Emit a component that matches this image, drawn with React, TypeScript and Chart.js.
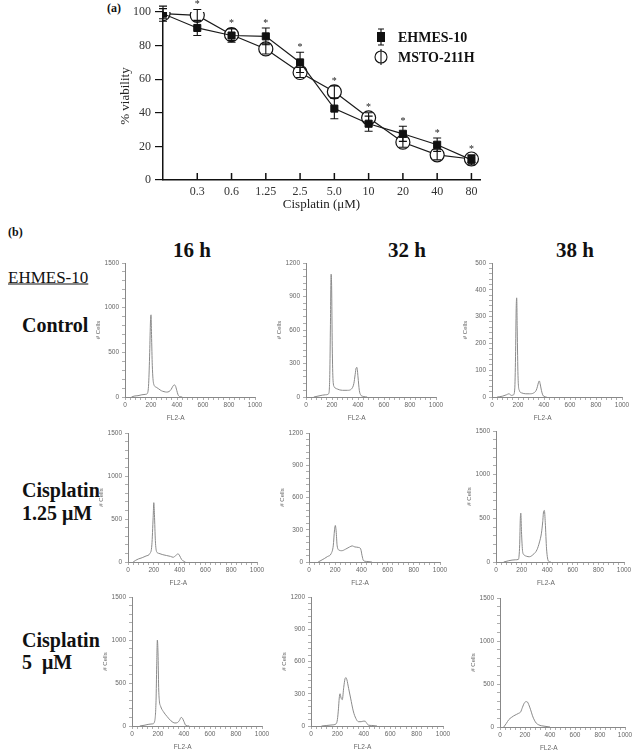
import React, { useEffect, useRef } from 'react';
import { Chart, registerables } from 'chart.js';

Chart.register(...registerables);

const SERIF = '"Liberation Serif", "Times New Roman", Times, serif';
const SANS = '"Liberation Sans", Arial, sans-serif';

// ---------- Panel (a): viability ----------
const concLabels = ['', '0.3', '0.6', '1.25', '2.5', '5.0', '10', '20', '40', '80'];
const ehmes = [99, 90.5, 86, 85.5, 70, 42.5, 33.5, 27.5, 21, 12];
const ehmesErr = [4.5, 4.5, 4, 5, 6, 6, 4.5, 4.5, 4, 3];
const msto = [99, 98, 86.5, 78, 64, 52.5, 37, 22.5, 15, 12.5];
const mstoErr = [3, 3.5, 3.5, 3, 3, 3.5, 3, 3, 3, 2];
const significant = [false, true, true, true, true, true, true, true, true, true];

// ---------- Panel (b): DNA histograms (FL2-A vs # Cells) ----------
// 16 h Control
const c16X = [50, 70, 100, 130, 160, 172, 182, 190, 196, 200, 204, 210, 220, 240, 260, 280, 300, 320, 340, 355, 368, 378, 388, 398, 408, 420, 440];
const c16Y = [0, 10, 15, 25, 30, 40, 150, 500, 850, 920, 700, 350, 150, 110, 90, 70, 60, 55, 62, 85, 120, 135, 125, 75, 25, 5, 0];
// 32 h Control
const c32X = [60, 100, 150, 175, 183, 188, 193, 197, 202, 208, 218, 240, 280, 320, 350, 368, 378, 386, 392, 400, 410, 420, 440, 470];
const c32Y = [0, 10, 20, 30, 200, 650, 1100, 1000, 450, 150, 90, 72, 60, 60, 72, 120, 200, 260, 265, 180, 60, 20, 5, 0];
// 38 h Control
const c38X = [40, 80, 110, 130, 150, 165, 175, 181, 186, 190, 194, 200, 210, 230, 260, 290, 320, 340, 350, 358, 364, 370, 380, 390, 400, 420];
const c38Y = [0, 3, 8, 12, 6, 8, 30, 150, 330, 370, 250, 80, 25, 15, 12, 12, 15, 25, 40, 55, 60, 50, 25, 8, 2, 0];
// 16 h Cisplatin 1.25 uM
const l16X = [40, 60, 80, 110, 140, 170, 185, 195, 200, 205, 212, 222, 240, 270, 300, 330, 350, 370, 388, 398, 415, 445];
const l16Y = [0, 20, 35, 50, 70, 100, 200, 520, 690, 550, 250, 120, 100, 85, 75, 65, 55, 75, 95, 80, 30, 0];
// 32 h Cisplatin 1.25 uM
const l32X = [70, 100, 140, 170, 185, 195, 201, 207, 215, 230, 250, 280, 310, 330, 350, 380, 395, 405, 415, 440, 480];
const l32Y = [0, 20, 50, 80, 150, 300, 340, 290, 150, 110, 105, 120, 140, 150, 140, 135, 120, 60, 15, 5, 0];
// 38 h Cisplatin 1.25 uM
const l38X = [60, 100, 150, 175, 185, 190, 194, 199, 208, 220, 240, 260, 290, 320, 340, 355, 365, 372, 378, 385, 395, 410, 430];
const l38Y = [0, 15, 25, 30, 200, 500, 560, 350, 120, 80, 65, 60, 85, 140, 230, 330, 460, 580, 590, 450, 150, 10, 0];
// 16 h Cisplatin 5 uM
const h16X = [60, 100, 130, 160, 175, 185, 190, 195, 200, 205, 210, 220, 240, 270, 300, 330, 350, 365, 378, 388, 400, 415, 440];
const h16Y = [0, 10, 20, 25, 60, 300, 700, 1000, 850, 450, 300, 230, 170, 110, 60, 35, 40, 65, 100, 90, 50, 5, 0];
// 32 h Cisplatin 5 uM
const h32X = [80, 120, 160, 190, 200, 208, 214, 220, 228, 237, 248, 258, 265, 272, 285, 300, 320, 340, 360, 380, 395, 410, 420, 435, 460, 500];
const h32Y = [0, 5, 10, 20, 60, 160, 260, 300, 260, 245, 360, 440, 450, 430, 350, 260, 140, 70, 40, 40, 45, 45, 30, 8, 5, 0];
// 38 h Cisplatin 5 uM
const h38X = [30, 50, 70, 90, 110, 130, 150, 165, 180, 195, 210, 220, 230, 245, 260, 275, 290, 310, 330, 360, 400];
const h38Y = [0, 40, 85, 110, 130, 145, 160, 175, 230, 280, 295, 290, 260, 200, 130, 80, 45, 25, 15, 8, 0];

const yMaxes = [1500, 1200, 500, 1500, 1200, 1500, 1500, 1200, 1500];
const timeHeaders = ['16 h', '32 h', '38 h'];

// ---------- Panel (a) chart ----------
const viabilityExtras = {
  id: 'viabilityExtras',
  afterDatasetsDraw(chart: any) {
    const { ctx, scales } = chart;
    const x = scales.x;
    const y = scales.y;
    ctx.save();
    // error bars
    ctx.strokeStyle = '#111';
    ctx.lineWidth = 1.1;
    const series: [number[], number[]][] = [
      [ehmes, ehmesErr],
      [msto, mstoErr],
    ];
    series.forEach(([vals, errs]) => {
      vals.forEach((v, i) => {
        const px = x.getPixelForValue(i);
        const top = y.getPixelForValue(v + errs[i]);
        const bot = y.getPixelForValue(v - errs[i]);
        ctx.beginPath();
        ctx.moveTo(px, top);
        ctx.lineTo(px, bot);
        ctx.moveTo(px - 4, top);
        ctx.lineTo(px + 4, top);
        ctx.moveTo(px - 4, bot);
        ctx.lineTo(px + 4, bot);
        ctx.stroke();
      });
    });
    // significance asterisks
    ctx.fillStyle = '#222';
    ctx.font = `10px ${SERIF}`;
    ctx.textAlign = 'center';
    ctx.textBaseline = 'middle';
    significant.forEach((s, i) => {
      if (!s) return;
      const top = Math.min(
        y.getPixelForValue(ehmes[i] + ehmesErr[i]),
        y.getPixelForValue(msto[i] + mstoErr[i])
      );
      ctx.fillText('*', x.getPixelForValue(i), top - 5);
    });
    // inward tick marks on the x axis
    ctx.strokeStyle = '#111';
    ctx.lineWidth = 1.5;
    const bottom = chart.chartArea.bottom;
    for (let i = 1; i < concLabels.length; i++) {
      const px = x.getPixelForValue(i);
      ctx.beginPath();
      ctx.moveTo(px, bottom);
      ctx.lineTo(px, bottom - 7);
      ctx.stroke();
    }
    // legend
    const lx = 281;
    const rows = [37, 57];
    ctx.lineWidth = 1.1;
    ctx.beginPath();
    ctx.moveTo(lx, rows[0] - 8);
    ctx.lineTo(lx, rows[0] + 8);
    ctx.moveTo(lx - 3, rows[0] - 8);
    ctx.lineTo(lx + 3, rows[0] - 8);
    ctx.moveTo(lx - 3, rows[0] + 8);
    ctx.lineTo(lx + 3, rows[0] + 8);
    ctx.stroke();
    ctx.fillStyle = '#111';
    ctx.fillRect(lx - 4, rows[0] - 5, 8, 10);
    ctx.beginPath();
    ctx.arc(lx, rows[1], 6, 0, Math.PI * 2);
    ctx.fillStyle = '#fff';
    ctx.fill();
    ctx.stroke();
    ctx.beginPath();
    ctx.moveTo(lx, rows[1] - 8);
    ctx.lineTo(lx, rows[1] + 8);
    ctx.stroke();
    ctx.fillStyle = '#111';
    ctx.font = `bold 14px ${SERIF}`;
    ctx.textAlign = 'left';
    ctx.textBaseline = 'middle';
    ctx.fillText('EHMES-10', lx + 17, rows[0] + 1);
    ctx.fillText('MSTO-211H', lx + 17, rows[1] + 1);
    ctx.restore();
  },
};

function ViabilityChart() {
  const ref = useRef<HTMLCanvasElement>(null);
  useEffect(() => {
    const chart = new Chart(ref.current as HTMLCanvasElement, {
      type: 'line',
      data: {
        datasets: [
          {
            label: 'EHMES-10',
            data: ehmes.map((v, i) => ({ x: i, y: v })),
            borderColor: '#1a1a1a',
            borderWidth: 1.2,
            pointStyle: 'rect',
            pointRadius: 5,
            pointBackgroundColor: '#111',
            pointBorderColor: '#111',
            pointBorderWidth: 1,
            tension: 0,
          },
          {
            label: 'MSTO-211H',
            data: msto.map((v, i) => ({ x: i, y: v })),
            borderColor: '#1a1a1a',
            borderWidth: 1.2,
            pointStyle: 'circle',
            pointRadius: 7,
            pointBackgroundColor: '#fff',
            pointBorderColor: '#111',
            pointBorderWidth: 1.2,
            tension: 0,
          },
        ],
      },
      options: {
        animation: false,
        responsive: false,
        maintainAspectRatio: false,
        layout: { padding: { top: 12, right: 20, left: 0, bottom: 0 } },
        plugins: { legend: { display: false }, tooltip: { enabled: false } },
        scales: {
          x: {
            type: 'linear',
            min: 0,
            max: 9.25,
            afterFit: (s: any) => {
              s.height = 35;
            },
            grid: { display: false, drawTicks: false },
            border: { display: true, color: '#111', width: 1.5 },
            ticks: {
              stepSize: 1,
              includeBounds: false,
              autoSkip: false,
              maxRotation: 0,
              padding: 5,
              color: '#333',
              font: { family: SERIF, size: 12 },
              callback: (v: any) => (Number.isInteger(v) ? concLabels[v] ?? '' : ''),
            },
            title: {
              display: true,
              text: 'Cisplatin (μM)',
              color: '#222',
              font: { family: SERIF, size: 13 },
              padding: { top: 0, bottom: 3 },
            },
          },
          y: {
            min: 0,
            max: 100,
            afterFit: (s: any) => {
              s.width = 63;
            },
            grid: { display: true, drawOnChartArea: false, drawTicks: true, tickLength: 8, tickColor: '#111', lineWidth: 1.2 },
            border: { display: true, color: '#111', width: 1.5 },
            ticks: { stepSize: 20, padding: 4, color: '#333', font: { family: SERIF, size: 12 } },
            title: {
              display: true,
              text: '% viability',
              color: '#222',
              font: { family: SERIF, size: 13 },
              padding: { top: 18, bottom: 0 },
            },
          },
        },
      } as any,
      plugins: [viabilityExtras],
    });
    return () => chart.destroy();
  }, []);
  return (
    <canvas
      ref={ref}
      width={400}
      height={215}
      style={{ position: 'absolute', left: 100, top: 0, width: 400, height: 215 }}
    />
  );
}

// ---------- Panel (b) histogram ----------
type HistProps = {
  axisX: number;
  xEnd: number;
  topY: number;
  bottomY: number;
  yMax: number;
  xs: number[];
  ys: number[];
};

const histExtras = {
  id: 'histExtras',
  afterDraw(chart: any) {
    const { ctx, scales } = chart;
    ctx.save();
    ctx.fillStyle = '#666';
    ctx.font = `6.5px ${SANS}`;
    ctx.textAlign = 'center';
    ctx.textBaseline = 'middle';
    ctx.fillText('FL2-A', scales.x.getPixelForValue(390), chart.chartArea.bottom + 21);
    ctx.restore();
  },
};

function Histogram({ axisX, xEnd, topY, bottomY, yMax, xs, ys }: HistProps) {
  const ref = useRef<HTMLCanvasElement>(null);
  const padL = 40;
  const padT = 8;
  const padR = 12;
  const padB = 30;
  const w = xEnd - axisX + padL + padR;
  const h = bottomY - topY + padT + padB;
  useEffect(() => {
    const major = yMax === 1500 ? 500 : yMax === 1200 ? 300 : 100;
    const minor = major / 5;
    const chart = new Chart(ref.current as HTMLCanvasElement, {
      type: 'line',
      data: {
        datasets: [
          {
            data: xs.map((x, i) => ({ x, y: ys[i] })),
            borderColor: '#8a8a8a',
            borderWidth: 1,
            pointRadius: 0,
            tension: 0.25,
            cubicInterpolationMode: 'monotone',
            fill: false,
          },
        ],
      },
      options: {
        animation: false,
        responsive: false,
        maintainAspectRatio: false,
        layout: { padding: { top: padT, right: padR, left: 0, bottom: 0 } },
        plugins: { legend: { display: false }, tooltip: { enabled: false } },
        scales: {
          x: {
            type: 'linear',
            min: 0,
            max: 1000,
            afterFit: (s: any) => {
              s.height = padB;
            },
            grid: { display: true, drawOnChartArea: false, drawTicks: true, tickLength: 3, tickColor: '#999', lineWidth: 0.8 },
            border: { display: true, color: '#888', width: 1 },
            ticks: {
              stepSize: 40,
              includeBounds: false,
              autoSkip: false,
              maxRotation: 0,
              padding: 1,
              color: '#666',
              font: { family: SANS, size: 6.5 },
              callback: (v: any) => (Math.round(v) % 200 === 0 ? String(Math.round(v)) : ''),
            },
          },
          y: {
            min: 0,
            max: yMax,
            afterFit: (s: any) => {
              s.width = padL;
            },
            grid: { display: true, drawOnChartArea: false, drawTicks: true, tickLength: 3, tickColor: '#999', lineWidth: 0.8 },
            border: { display: true, color: '#888', width: 1 },
            ticks: {
              stepSize: minor,
              includeBounds: false,
              autoSkip: false,
              padding: 3,
              color: '#666',
              font: { family: SANS, size: 6.5 },
              callback: (v: any) => (Math.round(v) % major === 0 ? String(Math.round(v)) : ''),
            },
            title: {
              display: true,
              text: '# Cells',
              color: '#666',
              font: { family: SANS, size: 6 },
              padding: { top: 9.5, bottom: 0 },
            },
          },
        },
      } as any,
      plugins: [histExtras],
    });
    return () => chart.destroy();
  }, []);
  return (
    <canvas
      ref={ref}
      width={w}
      height={h}
      style={{ position: 'absolute', left: axisX - padL, top: topY - padT, width: w, height: h }}
    />
  );
}

const gridPos = [
  { axisX: 125, xEnd: 255, topY: 263, bottomY: 397 },
  { axisX: 306, xEnd: 436, topY: 263, bottomY: 397 },
  { axisX: 492, xEnd: 622, topY: 263, bottomY: 397 },
  { axisX: 128, xEnd: 257, topY: 433, bottomY: 562 },
  { axisX: 309, xEnd: 440, topY: 433, bottomY: 562 },
  { axisX: 496, xEnd: 624, topY: 431, bottomY: 562 },
  { axisX: 132, xEnd: 262, topY: 597, bottomY: 726 },
  { axisX: 311, xEnd: 443, topY: 597, bottomY: 726 },
  { axisX: 500, xEnd: 625, topY: 598, bottomY: 727 },
];
const histData = [
  [c16X, c16Y],
  [c32X, c32Y],
  [c38X, c38Y],
  [l16X, l16Y],
  [l32X, l32Y],
  [l38X, l38Y],
  [h16X, h16Y],
  [h32X, h32Y],
  [h38X, h38Y],
];

function Label({ x, y, text, style }: { x: number; y: number; text: string; style?: React.CSSProperties }) {
  return (
    <div
      style={{
        position: 'absolute',
        left: x,
        top: y,
        transform: 'translateY(-50%)',
        whiteSpace: 'nowrap',
        lineHeight: 1,
        fontFamily: SERIF,
        color: '#111',
        ...style,
      }}
    >
      {text}
    </div>
  );
}

export default function App() {
  const headerCenters = [192, 407, 575];
  return (
    <div style={{ position: 'absolute', left: 0, top: 0, width: 633, height: 752, background: '#fff', overflow: 'hidden' }}>
      <Label x={107} y={8} text="(a)" style={{ fontWeight: 'bold', fontSize: 12 }} />
      <ViabilityChart />

      <Label x={8} y={232} text="(b)" style={{ fontWeight: 'bold', fontSize: 12 }} />
      <Label x={8} y={277} text="EHMES-10" style={{ fontSize: 17, textDecoration: 'underline' }} />
      {timeHeaders.map((t, i) => (
        <div
          key={t}
          style={{
            position: 'absolute',
            left: headerCenters[i] - 40,
            width: 80,
            top: 250,
            transform: 'translateY(-50%)',
            textAlign: 'center',
            fontFamily: SERIF,
            fontWeight: 'bold',
            fontSize: 21,
            lineHeight: 1,
            color: '#111',
          }}
        >
          {t}
        </div>
      ))}
      <Label x={22} y={325} text="Control" style={{ fontSize: 20, fontWeight: 'bold' }} />
      <Label x={22} y={490} text="Cisplatin" style={{ fontSize: 20, fontWeight: 'bold' }} />
      <Label x={22} y={513} text="1.25 μM" style={{ fontSize: 20, fontWeight: 'bold' }} />
      <Label x={22} y={640} text="Cisplatin" style={{ fontSize: 20, fontWeight: 'bold' }} />
      <Label x={22} y={662} text={'5\u00a0\u00a0μM'} style={{ fontSize: 20, fontWeight: 'bold' }} />

      {gridPos.map((p, i) => (
        <Histogram key={i} {...p} yMax={yMaxes[i]} xs={histData[i][0]} ys={histData[i][1]} />
      ))}
    </div>
  );
}
